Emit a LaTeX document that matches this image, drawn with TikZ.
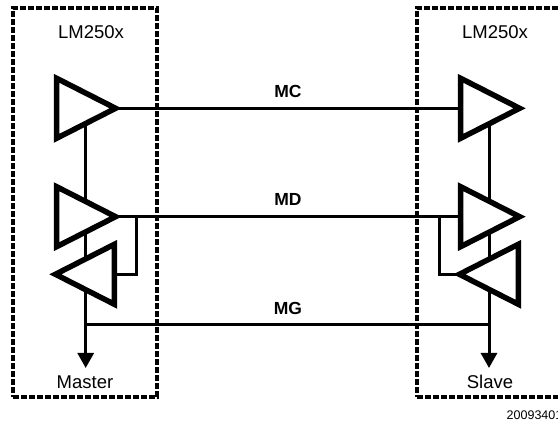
\documentclass[tikz,border=0pt]{standalone}
\usepackage{fontspec}
\setmainfont{Liberation Sans}
\usetikzlibrary{positioning, calc, arrows.meta, shapes.geometric, backgrounds}
\tikzset{
every node/.style = {font = \fontsize{18.5}{20}\selectfont},
device/.style = {rectangle, draw, line width = 3.3pt, dash pattern = on 5.7pt off 2.3pt},
amp/.style = {isosceles triangle, draw, fill = white, line width = 5.5pt, inner sep = 0pt,
   isosceles triangle stretches, minimum width = 60pt, minimum height = 59pt},
txamp/.style = {amp, shape border rotate = 0},
rxamp/.style = {amp, shape border rotate = 180},
bus/.style = {line width = 3pt},
supply/.style = {-{Triangle[length = 15pt, width = 16pt]}, line width = 3pt},
signal/.style = {font = \fontsize{17.5}{18}\selectfont\bfseries, inner sep = 0pt},
docnum/.style = {font = \fontsize{12.5}{14}\selectfont, inner sep = 0pt, anchor = west}
}

\begin{document}
\begin{tikzpicture}[x = 1pt, y = 1pt]

\clip (0,0) rectangle (558,422);

%% Device frames
\node [device, minimum width = 144pt, minimum height = 389pt] (LeftBox) at (85,219.5) {};
\node [device, minimum width = 180pt, minimum height = 389pt] (RightBox) at (507,219.5) {};

%% Master amplifiers
\node [txamp] (MC1) at (75,313.7) {};
\node [txamp] (MD1) at (75,205.3) {};
\node [rxamp] (MG1) at (96,147.7) {};

%% Slave amplifiers
\node [txamp] (MC2) at (479,313.7) {};
\node [txamp] (MD2) at (479,205.3) {};
\node [rxamp] (MG2) at (500,147.7) {};

%% Supply ends
\coordinate (V1) at (85.7,54);
\coordinate (V2) at (489,54);
\coordinate (G1) at (85.7,97);
\coordinate (G2) at (489,97);
\coordinate (K1) at (136,205.3);
\coordinate (K2) at (439,205.3);

%% Connectors, behind the amplifiers
\begin{scope}[on background layer]
\draw [bus] (MC1.center) -- (MC2.center);
\draw [bus] (MD1.center) -- (MD2.center);
\draw [bus] (G1) -- (G2);
\draw [bus] (K1) |- (MG1.center);
\draw [bus] (K2) |- (MG2.center);
\draw [bus] (MC1.center -| V1) -- (MG1.center -| V1);
\draw [bus] (MC2.center -| V2) -- (MG2.center -| V2);
\draw [supply] (MG1.center -| V1) -- (V1);
\draw [supply] (MG2.center -| V2) -- (V2);
\end{scope}

%% Labels
\node (LM1) at (91,390) {LM250x};
\node (LM2) at (495,390) {LM250x};
\node (Master) at (85,40) {Master};
\node (Slave) at (490,40) {Slave};
\node [signal] (MC) at (288,331) {MC};
\node [signal] (MD) at (288,223) {MD};
\node [signal] (MG) at (288,114) {MG};
\node [docnum] (Num) at (506.5,7) {20093401};

\end{tikzpicture}
\end{document}
